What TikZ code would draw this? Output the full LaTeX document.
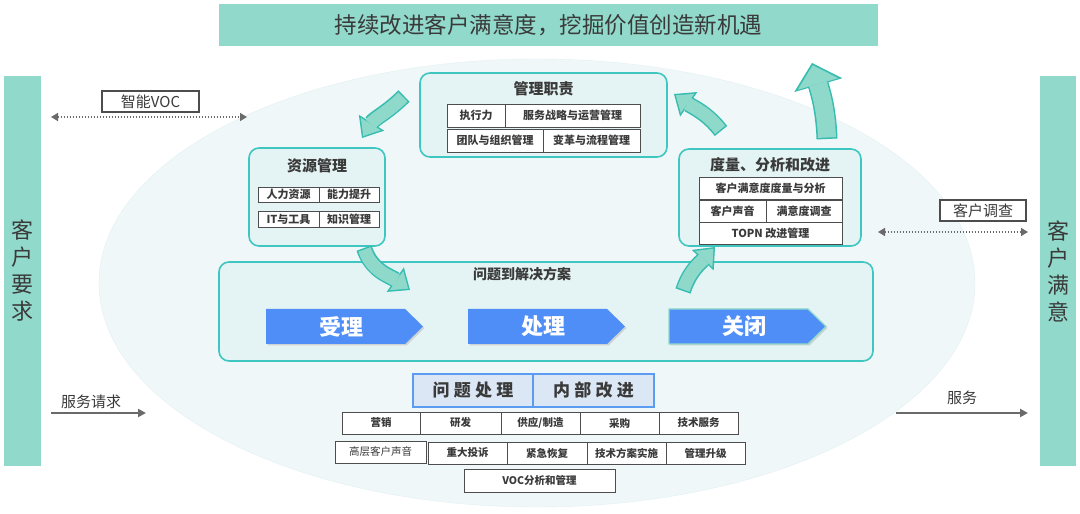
\documentclass[tikz,border=0pt]{standalone}
\usepackage{fontspec}
\setmainfont{Noto Sans CJK SC}
\newfontfamily\spacedfont{Noto Sans CJK SC}[LetterSpace=25]
\usepackage{xcolor}
\usetikzlibrary{arrows.meta, positioning, shadows}
\definecolor{bandTeal}{HTML}{91D9CB}
\definecolor{inkDark}{HTML}{3A3A3A}
\definecolor{panelEdge}{HTML}{40C6C0}
\definecolor{panelFill}{HTML}{E4F3F3}
\definecolor{ellipseFill}{HTML}{EFF7F9}
\definecolor{ellipseEdge}{HTML}{E3F0F2}
\definecolor{flowFill}{HTML}{8FD9CA}
\definecolor{flowEdge}{HTML}{36BCB0}
\definecolor{chevBlue}{HTML}{4F8EF7}
\definecolor{headFill}{HTML}{DCE7F5}
\definecolor{headEdge}{HTML}{5B9BF1}
\definecolor{cellEdge}{HTML}{4D4D4D}
\definecolor{arrowGray}{HTML}{6A6A6A}

\begin{document}
\begin{tikzpicture}[x=1pt, y=1pt,
        band/.style={rectangle, fill=bandTeal, inner sep=0pt, text=inkDark},
        panel/.style={rectangle, draw=panelEdge, fill=panelFill, rounded corners=10pt, line width=1.6pt},
        paneltitle/.style={font=\fontsize{15}{18}\selectfont\bfseries, text=inkDark},
        cell/.style={rectangle, draw=cellEdge, fill=white, line width=0.9pt, inner sep=0pt, outer sep=0pt, font=\fontsize{11}{13}\selectfont\bfseries, text=inkDark, drop shadow={shadow xshift=1pt, shadow yshift=-1pt, opacity=0.25}},
        dept/.style={cell, minimum height=22pt, font=\fontsize{10.5}{12}\selectfont\bfseries},
        headcell/.style={rectangle, draw=headEdge, fill=headFill, line width=1.5pt, minimum height=33pt, inner sep=0pt, outer sep=0pt, font=\fontsize{17}{20}\spacedfont\bfseries, text=inkDark},
        tagbox/.style={rectangle, draw=cellEdge, fill=white, line width=1.5pt, minimum height=21pt, inner sep=0pt, font=\fontsize{15}{18}\selectfont, text=inkDark},
        chevtext/.style={font=\fontsize{22}{26}\selectfont\bfseries, text=white},
        sidearrow/.style={-{Triangle[length=8pt, width=8pt]}, line width=2pt, color=arrowGray},
        viaarrow/.style={{Triangle[length=7pt, width=8pt]}-{Triangle[length=7pt, width=8pt]}, line width=1.5pt, dash pattern=on 1.5pt off 1.5pt, color=arrowGray},
        flowline/.style={line width=16pt, color=flowEdge, -{Triangle[length=18pt, width=30pt, line width=0pt]}},
        flowfill/.style={line width=13pt, color=flowFill, shorten <=1.5pt, shorten >=2.3pt, -{Triangle[length=14.2pt, width=23.6pt, line width=0pt]}}]

        \useasboundingbox (0,0) rectangle (1080,514);
        \fill[white] (0,0) rectangle (1080,514);

        % Background
        \fill[ellipseFill, draw=ellipseEdge] (537,231) ellipse [x radius=438, y radius=224];
        \node[band, minimum width=659pt, minimum height=42pt, font=\fontsize{22.5}{26}\selectfont] (headline) at (548.5,489) {持续改进客户满意度，挖掘价值创造新机遇};
        \node[band, minimum width=37pt, minimum height=390pt, align=center, font=\fontsize{22}{27}\selectfont] (demand) at (22.5,243) {客\\户\\要\\求};
        \node[band, minimum width=36pt, minimum height=390pt, align=center, font=\fontsize{22}{27}\selectfont] (content) at (1058,243) {客\\户\\满\\意};

        % Side links
        \node[tagbox, minimum width=97pt] (smartvoc) at (150.5,412.5) {智能VOC};
        \coordinate (vocwest) at (51,397);
        \coordinate (voceast) at (247,397);
        \draw[viaarrow] (vocwest) -- (voceast);
        \node[tagbox, minimum width=86pt] (probe) at (983,303.5) {客户调查};
        \coordinate (probewest) at (878,282);
        \coordinate (probeeast) at (1028,282);
        \draw[viaarrow] (probewest) -- (probeeast);
        \node[font=\fontsize{15}{18}\selectfont, text=inkDark] (request) at (91,112) {服务请求};
        \coordinate (reqwest) at (51,101);
        \coordinate (reqeast) at (146,101);
        \draw[sidearrow] (reqwest) -- (reqeast);
        \node[font=\fontsize{15}{18}\selectfont, text=inkDark] (service) at (962,116) {服务};
        \coordinate (svcwest) at (896,101);
        \coordinate (svceast) at (1028,101);
        \draw[sidearrow] (svcwest) -- (svceast);

        % Panel: management duty
        \node[panel, minimum width=247pt, minimum height=84pt] (duty) at (543.5,399) {};
        \node[paneltitle, above of=duty, node distance=26pt] (dutytitle) {管理职责};
        \node[cell, minimum width=58pt, minimum height=23pt] (exec) at (476,398.5) {执行力};
        \node[cell, minimum width=135pt, minimum height=23pt, right=0pt of exec] (strategy) {服务战略与运营管理};
        \node[cell, minimum width=96pt, minimum height=23pt] (team) at (495,373.5) {团队与组织管理};
        \node[cell, minimum width=97pt, minimum height=23pt, right=0pt of team] (change) {变革与流程管理};

        % Panel: resources
        \node[panel, minimum width=136pt, minimum height=98pt] (resource) at (317,317) {};
        \node[paneltitle, above of=resource, node distance=31pt] (restitle) {资源管理};
        \node[cell, minimum width=61pt, minimum height=15pt] (hr) at (288.5,319.5) {人力资源};
        \node[cell, minimum width=60pt, minimum height=15pt, right=0pt of hr] (skill) {能力提升};
        \node[cell, minimum width=61pt, minimum height=16pt] (tools) at (288.5,295) {IT与工具};
        \node[cell, minimum width=60pt, minimum height=16pt, right=0pt of tools] (know) {知识管理};

        % Panel: measure and improve
        \node[panel, minimum width=182pt, minimum height=97pt] (measure) at (770,316.5) {};
        \node[paneltitle, above of=measure, node distance=32.5pt] (meastitle) {度量、分析和改进};
        \node[cell, minimum width=143pt, minimum height=22pt] (csat) at (770.5,326) {客户满意度度量与分析};
        \node[cell, minimum width=67pt, minimum height=22pt] (voice) at (732.5,303) {客户声音};
        \node[cell, minimum width=76pt, minimum height=22pt, right=0pt of voice] (survey) {满意度调查};
        \node[cell, minimum width=143pt, minimum height=22pt] (topn) at (770.5,281) {TOPN 改进管理};

        % Panel: issue to solution
        \node[panel, minimum width=654pt, minimum height=99pt] (solve) at (546,202.5) {};
        \node[paneltitle, font=\fontsize{14}{17}\selectfont\bfseries] (solvetitle) at (522,240) {问题到解决方案};
        \foreach \x/\txt/\nm in {266/受理/accept, 468/处理/handle, 669/关闭/close}{
            \fill[gray!50, opacity=0.6] (\x+1.5,168.5) -- ++(139,0) -- ++(18,17.5) -- ++(-18,17.5) -- ++(-139,0) -- cycle;
            \fill[chevBlue] (\x,170) -- ++(139,0) -- ++(18,17.5) -- ++(-18,17.5) -- ++(-139,0) -- cycle;
            \node[chevtext] (\nm) at (\x+75,187.5) {\txt};
        }
        \draw[flowFill, line width=1.2pt] (669,170) -- ++(139,0) -- ++(18,17.5) -- ++(-18,17.5) -- ++(-139,0) -- cycle;

        % Bottom: departments
        \node[headcell, minimum width=120pt] (issue) at (473,123.5) {问题处理};
        \node[headcell, minimum width=121pt, right=0pt of issue] (improve) {内部改进};
        \node[dept, minimum width=78pt] (sales) at (381,91) {营销};
        \node[dept, minimum width=81pt, right=0pt of sales] (rnd) {研发};
        \node[dept, minimum width=79pt, right=0pt of rnd] (supply) {供应/制造};
        \node[dept, minimum width=79pt, right=0pt of supply] (purchase) {采购};
        \node[dept, minimum width=79pt, right=0pt of purchase] (techsvc) {技术服务};
        \node[dept, minimum width=91pt, font=\fontsize{10.5}{12}\selectfont] (execvoice) at (380.5,62) {高层客户声音};
        \node[dept, minimum width=79pt, right=2pt of execvoice, yshift=-1pt] (complaint) {重大投诉};
        \node[dept, minimum width=80pt, right=0pt of complaint] (recover) {紧急恢复};
        \node[dept, minimum width=79pt, right=0pt of recover] (rollout) {技术方案实施};
        \node[dept, minimum width=79pt, right=0pt of rollout] (escalate) {管理升级};
        \node[dept, minimum width=151pt, minimum height=23pt] (vocmgmt) at (539.5,33.5) {VOC分析和管理};

        % Flow arrows
        \coordinate (dutyout) at (404,418);
        \coordinate (resin) at (362,376);
        \draw[flowline] (dutyout) to[out=225, in=58] (resin);
        \draw[flowfill] (dutyout) to[out=225, in=58] (resin);
        \coordinate (resout) at (364,266);
        \coordinate (solvein) at (410,224);
        \draw[flowline] (resout) to[out=288, in=145] (solvein);
        \draw[flowfill] (resout) to[out=288, in=145] (solvein);
        \coordinate (solveout) at (683,223);
        \coordinate (measin) at (715,267);
        \draw[flowline] (solveout) to[out=72, in=227] (measin);
        \draw[flowfill] (solveout) to[out=72, in=227] (measin);
        \coordinate (measout) at (721,383);
        \coordinate (dutyin) at (674,420);
        \draw[flowline] (measout) to[out=128, in=325] (dutyin);
        \draw[flowfill] (measout) to[out=128, in=325] (dutyin);
        \coordinate (liftout) at (827,375);
        \coordinate (liftin) at (812,451);
        \draw[flowline, line width=21pt, -{Triangle[length=23pt, width=50pt, line width=0pt]}] (liftout) to[out=92, in=286] (liftin);
        \draw[flowfill, line width=18pt, -{Triangle[length=19.5pt, width=42pt, line width=0pt]}] (liftout) to[out=92, in=286] (liftin);
    \end{tikzpicture}
\end{document}
